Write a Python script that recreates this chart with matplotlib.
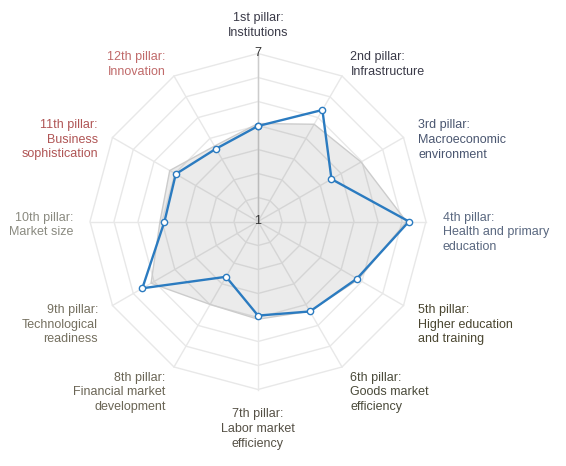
import numpy as np
import matplotlib.pyplot as plt

# pillar names (label text) and colours
labels = ['1st pillar:\nInstitutions',
          '2nd pillar:\nInfrastructure',
          '3rd pillar:\nMacroeconomic\nenvironment',
          '4th pillar:\nHealth and primary\neducation',
          '5th pillar:\nHigher education\nand training',
          '6th pillar:\nGoods market\nefficiency',
          '7th pillar:\nLabor market\nefficiency',
          '8th pillar:\nFinancial market\ndevelopment',
          '9th pillar:\nTechnological\nreadiness',
          '10th pillar:\nMarket size',
          '11th pillar:\nBusiness\nsophistication',
          '12th pillar:\nInnovation']
label_colors = ['#3a3a48', '#3a3a48', '#4a5670', '#5a6880', '#4a4630', '#4a4a3a',
                '#555045', '#6a6555', '#757060', '#8a8a80', '#b05555', '#c06a6a']

# scores (scale 1..7)
country = [4.41, 5.60, 4.03, 6.39, 5.08, 4.71, 4.36, 3.28, 5.77, 4.34, 4.39, 4.00]
benchmark = [4.50, 5.01, 5.25, 6.30, 5.14, 4.70, 4.49, 4.42, 5.41, 4.50, 4.64, 4.11]

vmin, vmax = 1, 7
n_rings = 7

# pixel layout: centre (258, 221.5), outer radius 168 px
W, H = 566, 466
cx, cy, R = 258, 221.5, 168

fig = plt.figure(figsize=(W / 100, H / 100), dpi=100)
ax = fig.add_axes([0, 0, 1, 1])
ax.set_xlim(-cx / R, (W - cx) / R)
ax.set_ylim(-(H - cy) / R, cy / R)
ax.axis('off')

n = len(labels)
theta = np.arange(n) * 2 * np.pi / n
sx, sy = np.sin(theta), np.cos(theta)


def to_xy(vals):
    r = (np.asarray(vals) - vmin) / (vmax - vmin)
    return r * sx, r * sy


# grid rings
for k in range(1, n_rings + 1):
    f = k / n_rings
    ax.plot(np.append(f * sx, f * sx[0]), np.append(f * sy, f * sy[0]),
            color='#e8e8e8', lw=1, zorder=1)
# spokes
for i in range(n):
    ax.plot([0, sx[i]], [0, sy[i]], color='#e8e8e8', lw=1, zorder=1)
ax.plot([0, 0], [0, 1], color='#cccccc', lw=1, zorder=1)

# benchmark area
bx, by = to_xy(benchmark)
ax.fill(bx, by, facecolor='#000000', alpha=0.08, edgecolor='none', zorder=2)
ax.plot(np.append(bx, bx[0]), np.append(by, by[0]), color='#cccccc', lw=1, zorder=2)

# country line
px, py = to_xy(country)
ax.plot(np.append(px, px[0]), np.append(py, py[0]), color='#2b7bc0', lw=1.7,
        marker='o', markersize=4.5, markerfacecolor='white', markeredgecolor='#2b7bc0',
        markeredgewidth=1, zorder=3)

# y-axis labels
ax.text(0, 0, str(vmin), ha='center', va='center', fontsize=9, color='#333333',
        family='Liberation Sans', zorder=4)
ax.text(0, 1, str(vmax), ha='center', va='center', fontsize=9, color='#333333',
        family='Liberation Sans', zorder=4)

# category labels
lr = 1.1
off = 10 / R
for i in range(n):
    x, y = lr * sx[i], lr * sy[i]
    if i == 0:
        ha, va, y = 'center', 'bottom', y - 2 / R
    elif i == n // 2:
        ha, va, y = 'center', 'top', y - 2 / R
    elif i < n // 2:
        ha, va, y = 'left', 'top', y + off
    else:
        ha, va, y = 'right', 'top', y + off
    ax.text(x, y, labels[i], ha=ha, va=va, fontsize=9, color=label_colors[i],
            family='Liberation Sans', linespacing=1.3, multialignment=ha)

fig.savefig('out.png', dpi=100)
